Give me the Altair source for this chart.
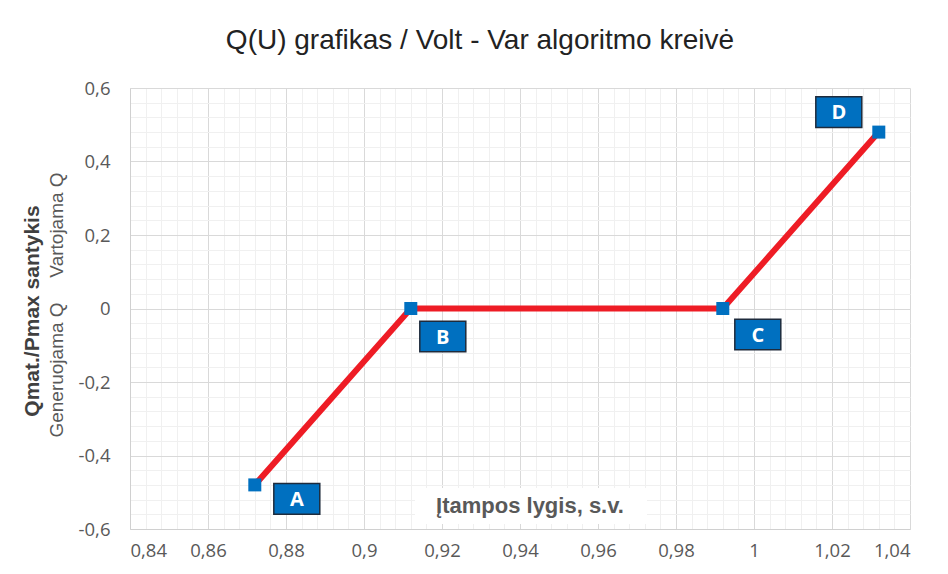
import altair as alt
import pandas as pd

# Data
voltage = [0.872, 0.912, 0.992, 1.032]
q_ratio = [-0.48, 0.0, 0.0, 0.48]
point_labels = ["A", "B", "C", "D"]

x_major = [0.84, 0.86, 0.88, 0.90, 0.92, 0.94, 0.96, 0.98, 1.00, 1.02, 1.04]
y_major = [-0.6, -0.4, -0.2, 0.0, 0.2, 0.4, 0.6]
x_minor = [round(0.84 + i * 0.004, 3) for i in range(51) if i % 5]
y_minor = [round(-0.6 + i * 0.04, 3) for i in range(31) if i % 5]

df = pd.DataFrame({"u": voltage, "q": q_ratio, "lab": point_labels})

RED = "#EE1C25"
BLUE = "#0070C0"
FONT = "Liberation Sans"
LABFONT = "Open Sans"

xs = alt.Scale(domain=[0.84, 1.04], nice=False, zero=False)
ys = alt.Scale(domain=[-0.6, 0.6], nice=False, zero=False)

lab_expr_x = "replace(replace(format(datum.value, '.2~f'), '.', ','), '\u2212', '-')"
lab_expr_y = "replace(replace(format(datum.value, '.1~f'), '.', ','), '\u2212', '-')"

base = alt.Chart(df)

line = base.mark_line(color=RED, strokeWidth=6).encode(
    x=alt.X("u:Q", scale=xs, axis=alt.Axis(values=x_minor, labels=False, ticks=False,
                                           domain=False, grid=True, gridColor="#f0f0f0",
                                           gridWidth=1, title=None, orient="top")),
    y=alt.Y("q:Q", scale=ys, axis=alt.Axis(values=y_minor, labels=False, ticks=False,
                                           domain=False, grid=True, gridColor="#f0f0f0",
                                           gridWidth=1, title=None, orient="right")),
)

pts = base.mark_square(color=BLUE, size=169, opacity=1, filled=True).encode(
    x=alt.X("u:Q", scale=xs, axis=alt.Axis(values=x_major, labelExpr=lab_expr_x, ticks=False,
                                           domain=True, domainColor="#d0d0d0", grid=True,
                                           gridColor="#d9d9d9", labelFont=LABFONT,
                                           labelFontSize=18.5, labelColor="#595959",
                                           labelPadding=12, title=None, orient="bottom")),
    y=alt.Y("q:Q", scale=ys, axis=alt.Axis(values=y_major, labelExpr=lab_expr_y, ticks=False,
                                           domain=True, domainColor="#d0d0d0", grid=True,
                                           gridColor="#d9d9d9", labelFont=LABFONT,
                                           labelFontSize=18.5, labelColor="#595959",
                                           labelPadding=20, title=None, orient="left")),
)

box_path = "M-1.5,-1L1.5,-1L1.5,1L-1.5,1Z"
offsets = {"A": (42, 14), "B": (32, 28), "C": (35, 26), "D": (-40, -20)}

label_layers = []
for lab in point_labels:
    dx, dy = offsets[lab]
    sub = alt.Chart(df[df.lab == lab])
    box = sub.mark_point(shape=box_path, size=940, filled=True, fill=BLUE, opacity=1,
                         stroke="#1e2b3c", strokeWidth=1.5, xOffset=dx, yOffset=dy).encode(
        x=alt.X("u:Q", scale=xs, axis=None), y=alt.Y("q:Q", scale=ys, axis=None))
    txt = sub.mark_text(font=LABFONT, fontWeight="bold", fontSize=20, color="white",
                        xOffset=dx, yOffset=dy + 1, baseline="middle", align="center").encode(
        x=alt.X("u:Q", scale=xs, axis=None), y=alt.Y("q:Q", scale=ys, axis=None),
        text="lab:N")
    label_layers += [box, txt]

one = pd.DataFrame({"k": [0]})
xt_bg = alt.Chart(one).mark_rect(color="white").encode(
    x=alt.value(285), x2=alt.value(517), y=alt.value(400), y2=alt.value(436))
xt = alt.Chart(one).mark_text(text="Įtampos lygis, s.v.", font=FONT, fontWeight="bold",
                              fontSize=22, color="#595959", align="center",
                              baseline="middle").encode(x=alt.value(400), y=alt.value(418))

ytitle = alt.Chart(one).mark_text(text="Qmat./Pmax santykis", font=FONT, fontWeight="bold",
                                  fontSize=21, color="#404040", angle=270, align="center",
                                  baseline="middle").encode(x=alt.value(-97), y=alt.value(223))
yv = alt.Chart(one).mark_text(text="Vartojama Q", font=FONT, fontSize=19, color="#595959",
                              angle=270, align="center", baseline="middle").encode(
    x=alt.value(-73), y=alt.value(137))
yg = alt.Chart(one).mark_text(text="Generuojama Q", font=FONT, fontSize=19, color="#595959",
                              angle=270, align="center", baseline="middle").encode(
    x=alt.value(-73), y=alt.value(282))

chart = alt.layer(line, pts, xt_bg, xt, ytitle, yv, yg, *label_layers).resolve_axis(
    x="independent", y="independent"
).properties(
    width=780, height=441,
    autosize=alt.AutoSizeParams(type="none"),
    padding={"left": 122, "top": 80, "right": 30, "bottom": 35},
    title=alt.TitleParams("Q(U) grafikas / Volt - Var algoritmo kreivė", font=FONT,
                          fontSize=28, fontWeight="normal", color="#222222",
                          anchor="middle", offset=24, dx=-40),
).configure_view(stroke=None)

chart.save("out.html", embed_options={"renderer": "svg", "actions": False})
